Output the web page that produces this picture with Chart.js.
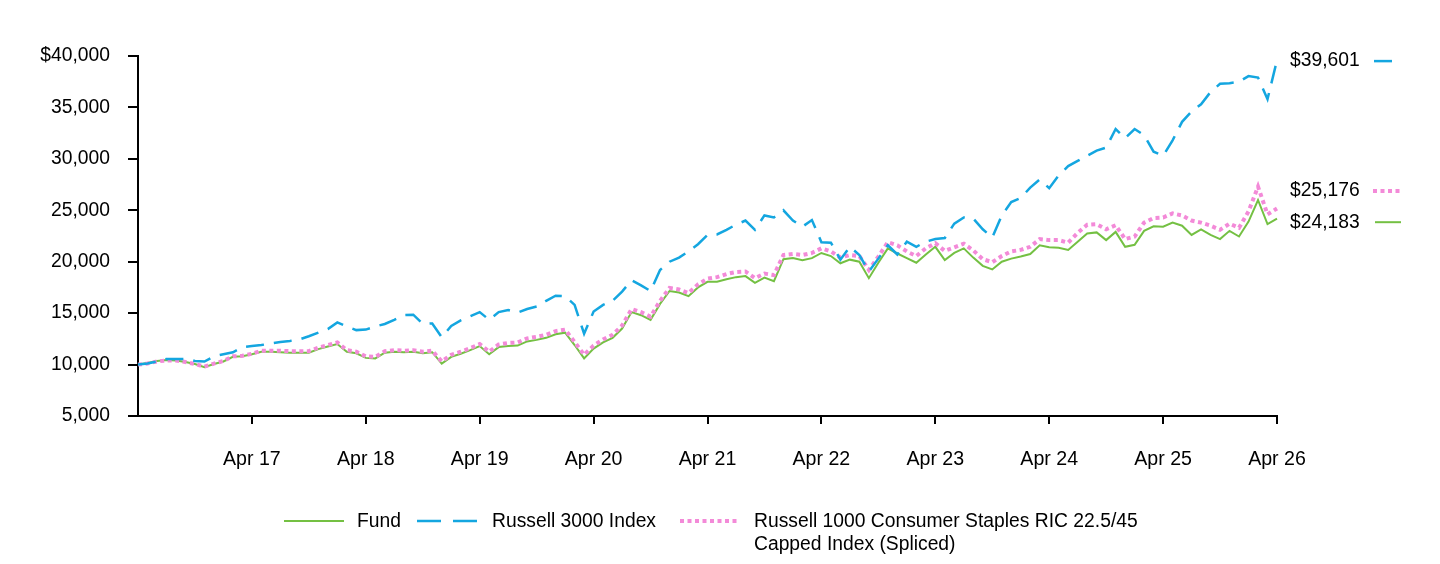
<!DOCTYPE html>
<html><head><meta charset="utf-8">
<script src="https://cdn.jsdelivr.net/npm/chart.js@4.4.1/dist/chart.umd.min.js"></script>
<style>
html,body{margin:0;padding:0;background:#fff;}
#wrap{position:relative;width:1440px;height:564px;font-family:"Liberation Sans",Arial,sans-serif;color:#000;overflow:hidden;}
#c{position:absolute;left:0;top:0;}
.lg{position:absolute;font-size:19.3px;line-height:23px;white-space:nowrap;}
#lgsvg{position:absolute;left:0;top:0;}
</style></head><body>
<div id="wrap">
<canvas id="c" width="1440" height="564"></canvas>
<svg id="lgsvg" width="1440" height="564">
  <line x1="284" y1="521" x2="344" y2="521" stroke="#74c043" stroke-width="2"/>
  <line x1="417" y1="521" x2="477" y2="521" stroke="#14a6e0" stroke-width="2.5" stroke-dasharray="24 12"/>
  <line x1="680" y1="521" x2="740" y2="521" stroke="#f38ad8" stroke-width="4" stroke-dasharray="4 3.5"/>
</svg>
<div class="lg" style="left:357px;top:509px">Fund</div>
<div class="lg" style="left:492px;top:509px">Russell 3000 Index</div>
<div class="lg" style="left:754px;top:509px">Russell 1000 Consumer Staples RIC 22.5/45<br>Capped Index (Spliced)</div>
</div>
<script>
// ---- data (monthly, Apr 2016 .. Apr 2026) ----
const monthNames = ['Jan','Feb','Mar','Apr','May','Jun','Jul','Aug','Sep','Oct','Nov','Dec'];
const xTickLabels = ['Apr 17','Apr 18','Apr 19','Apr 20','Apr 21','Apr 22','Apr 23','Apr 24','Apr 25','Apr 26'];
const yTickValues = [5000,10000,15000,20000,25000,30000,35000,40000];
const seriesNames = ['Fund','Russell 3000 Index','Russell 1000 Consumer Staples RIC 22.5/45 Capped Index (Spliced)'];

const fund = [
10000,10150,10350,10450,10400,10250,10050,9750,10050,10300,10750,10800,
11000,11250,11250,11200,11150,11150,11150,11500,11750,12000,11250,11100,
10650,10600,11150,11250,11200,11250,11100,11200,10100,10750,11050,11400,
11800,11000,11700,11800,11850,12250,12400,12600,12950,13100,11900,10600,
11550,12150,12600,13500,15100,14800,14350,15900,17150,17000,16650,17500,
18050,18050,18300,18500,18600,17950,18450,18100,20250,20350,20150,20350,
20850,20550,19850,20200,20000,18400,19900,21300,20800,20350,19900,20700,
21450,20150,20850,21300,20400,19600,19250,20000,20300,20500,20750,21600,
21400,21350,21150,21950,22750,22850,22100,22900,21450,21650,23000,23450,
23400,23800,23500,22600,23150,22600,22200,23000,22450,23900,26000,23650,
24183];

const russell3000 = [
10000,10100,10300,10550,10550,10550,10350,10300,10800,11000,11200,11700,
11800,11900,12050,12200,12300,12450,12750,13100,13450,14100,13700,13350,
13400,13700,13950,14350,14800,14850,13950,14000,12650,13750,14300,14700,
15100,14350,15100,15300,15050,15400,15650,16200,16700,16650,15800,13000,
15150,15800,16200,17100,18200,17700,17150,19200,20000,20400,21000,21700,
22600,22650,23100,23600,24000,23100,24500,24300,25000,24000,23400,24050,
21900,21850,20200,21450,20650,19050,20300,21600,20700,21950,21450,21950,
22200,22300,23700,24300,24200,23150,22350,24500,25800,26200,27200,28000,
27150,28400,29300,29800,30300,30800,31100,32900,32000,32900,32300,30700,
30300,31800,33600,34600,35300,36500,37300,37350,37500,38050,37900,35800,
39601];

const staplesIndex = [
10000,10100,10300,10400,10400,10250,10050,9800,10100,10350,10800,10850,
11050,11350,11350,11350,11300,11300,11300,11650,11900,12150,11400,11250,
10800,10750,11300,11400,11350,11400,11250,11350,10300,10950,11250,11600,
12000,11250,11950,12100,12150,12550,12700,12900,13250,13400,12200,10950,
11850,12450,12900,13800,15400,15100,14650,16200,17450,17300,16950,17800,
18350,18500,18800,19000,19050,18400,18850,18700,20650,20750,20650,20850,
21300,21000,20400,20650,20550,19200,20500,21900,21600,21000,20550,21300,
21800,21050,21400,21750,21100,20250,19950,20550,21000,21150,21450,22200,
22100,22100,21850,22800,23600,23650,23150,23550,22200,22450,23800,24250,
24300,24700,24500,24000,23800,23500,23100,23700,23300,24900,27300,24600,
25176];

// category labels (one per month)
const months = [];
for (let k = 0; k < fund.length; k++) {
  const m = (3 + k) % 12, yr = 16 + Math.floor((3 + k) / 12);
  months.push(monthNames[m] + ' ' + yr);
}

const FONT = '"Liberation Sans", Arial, sans-serif';
const GREEN = '#74c043', BLUE = '#14a6e0', PINK = '#f38ad8';

const endLabels = [
  {ds: 1, dy: 1,   x1: 1374, x2: 1392},
  {ds: 2, dy: -17.5, x1: 1373, x2: 1401},
  {ds: 0, dy: 3.5,   x1: 1375, x2: 1401}
];

const endLabelPlugin = {
  id: 'endLabels',
  afterDraw(chart) {
    const ctx = chart.ctx, ys = chart.scales.y;
    ctx.save();
    ctx.font = '19.3px ' + FONT;
    ctx.fillStyle = '#000';
    ctx.textAlign = 'left';
    ctx.textBaseline = 'middle';
    endLabels.forEach(e => {
      const d = chart.data.datasets[e.ds];
      const v = d.data[d.data.length - 1];
      const y = ys.getPixelForValue(v) + e.dy;
      ctx.fillText('$' + v.toLocaleString('en-US'), 1290, y);
      ctx.beginPath();
      ctx.strokeStyle = d.borderColor;
      ctx.lineWidth = d.borderWidth;
      ctx.setLineDash(d.borderDash || []);
      ctx.moveTo(e.x1, y); ctx.lineTo(e.x2, y);
      ctx.stroke();
    });
    ctx.restore();
  }
};

new Chart(document.getElementById('c'), {
  type: 'line',
  data: {
    labels: months,
    datasets: [
      {label: seriesNames[0], data: fund, borderColor: GREEN, borderWidth: 2, pointRadius: 0, tension: 0, order: 2},
      {label: seriesNames[1], data: russell3000, borderColor: BLUE, borderWidth: 2.5, borderDash: [18, 10], pointRadius: 0, tension: 0, order: 0},
      {label: seriesNames[2], data: staplesIndex, borderColor: PINK, borderWidth: 4, borderDash: [4, 3.5], pointRadius: 0, tension: 0, order: 1}
    ]
  },
  options: {
    responsive: false,
    animation: false,
    layout: {padding: {left: 0, right: 163, top: 56, bottom: 0}},
    plugins: {legend: {display: false}, tooltip: {enabled: false}},
    scales: {
      x: {
        type: 'category',
        offset: false,
        grid: {display: true, drawOnChartArea: false, drawTicks: true, tickLength: 8, color: '#000', lineWidth: 2},
        border: {display: true, color: '#000', width: 2},
        ticks: {
          autoSkip: false, maxRotation: 0, padding: 24, color: '#000',
          font: {family: FONT, size: 19.6},
          callback: (val, idx) => (idx > 0 && idx % 12 === 0) ? xTickLabels[idx / 12 - 1] : null
        },
        afterFit: s => { s.height = 148; }
      },
      y: {
        type: 'linear',
        min: 5000, max: 40000,
        afterBuildTicks: s => { s.ticks = yTickValues.map(v => ({value: v})); },
        grid: {display: true, drawOnChartArea: false, drawTicks: true, tickLength: 10, color: '#000', lineWidth: 2},
        border: {display: true, color: '#000', width: 2},
        ticks: {
          padding: 18, color: '#000',
          font: {family: FONT, size: 19.3},
          callback: v => (v === 40000 ? '$' : '') + v.toLocaleString('en-US')
        },
        afterFit: s => { s.width = 138; }
      }
    }
  },
  plugins: [endLabelPlugin]
});
</script>
</body></html>
